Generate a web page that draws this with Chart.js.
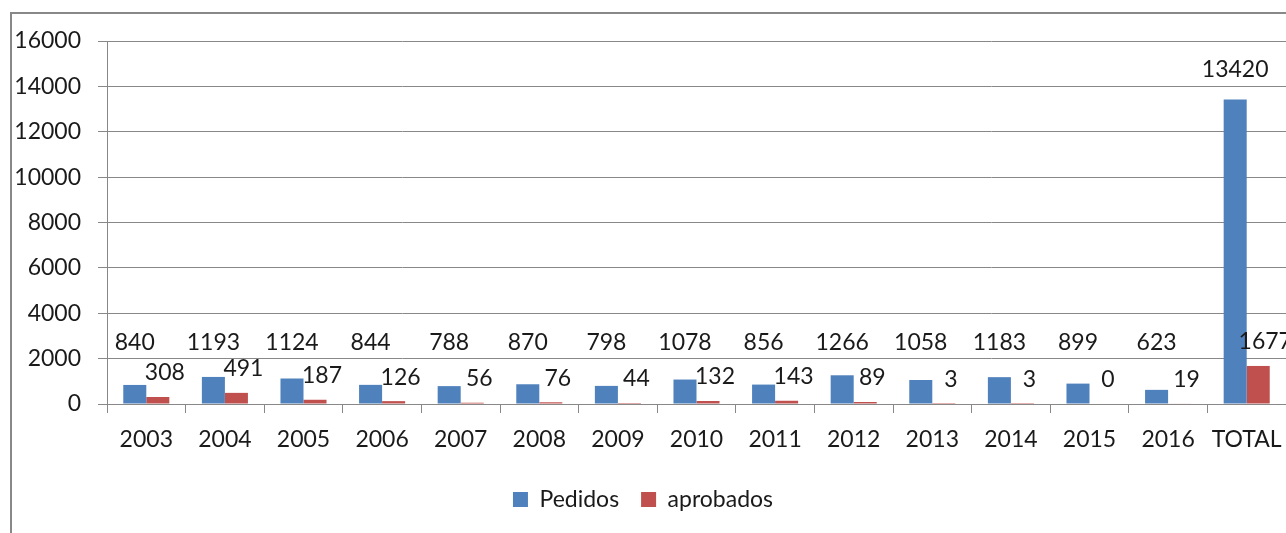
<!DOCTYPE html>
<html>
<head>
<meta charset="utf-8">
<script src="https://cdn.jsdelivr.net/npm/chart.js@4/dist/chart.umd.min.js"></script>
<style>
html,body{margin:0;padding:0;background:#fff;}
#wrap{position:relative;width:1286px;height:533px;}
</style>
</head>
<body>
<div id="wrap"><canvas id="c" width="1286" height="533"></canvas></div>
<script>
const categories = ['2003','2004','2005','2006','2007','2008','2009','2010','2011','2012','2013','2014','2015','2016','TOTAL'];
const pedidos = [840,1193,1124,844,788,870,798,1078,856,1266,1058,1183,899,623,13420];
const aprobados = [308,491,187,126,56,76,44,132,143,89,3,3,0,19,1677];
const yMin = 0, yMax = 16000, yStep = 2000;
const seriesNames = ['Pedidos','aprobados'];
const seriesColors = ['#4F81BD','#C0504D'];

const FONT = 'Lato, "Open Sans", sans-serif';
const FS = 23;

const framePlugin = {
  id:'frame',
  beforeDraw(chart){
    const ctx = chart.ctx;
    ctx.save();
    ctx.fillStyle = '#fff';
    ctx.fillRect(0,0,chart.width,chart.height);
    ctx.strokeStyle = '#888888';
    ctx.lineWidth = 2;
    ctx.beginPath();
    ctx.moveTo(11, chart.height+2);
    ctx.lineTo(11, 13);
    ctx.lineTo(chart.width+2, 13);
    ctx.stroke();
    ctx.restore();
  }
};

const labelPlugin = {
  id:'vals',
  afterDatasetsDraw(chart){
    const ctx = chart.ctx;
    const ys = chart.scales.y;
    ctx.save();
    ctx.font = FS + 'px ' + FONT;
    ctx.fillStyle = '#1a1a1a';
    ctx.textAlign = 'center';
    ctx.textBaseline = 'middle';
    chart.getDatasetMeta(0).data.forEach((bar,i)=>{
      const y = Math.min(ys.getPixelForValue(2700), bar.y - 30);
      ctx.fillText(String(pedidos[i]), bar.x, y);
    });
    chart.getDatasetMeta(1).data.forEach((bar,i)=>{
      const y = bar.y - 24;
      ctx.fillText(String(aprobados[i]), bar.x + 7, y);
    });
    ctx.restore();
  }
};

new Chart(document.getElementById('c'), {
  type:'bar',
  data:{
    labels:categories,
    datasets:[
      {label:seriesNames[0], data:pedidos, backgroundColor:seriesColors[0], categoryPercentage:0.586, barPercentage:1},
      {label:seriesNames[1], data:aprobados, backgroundColor:seriesColors[1], categoryPercentage:0.586, barPercentage:1}
    ]
  },
  options:{
    responsive:false,
    animation:false,
    layout:{padding:{top:41, right:0, bottom:12, left:0}},
    plugins:{
      legend:{
        position:'bottom',
        labels:{
          font:{family:FONT, size:FS},
          color:'#1a1a1a',
          boxWidth:15, boxHeight:15,
          padding:22
        }
      },
      tooltip:{enabled:false}
    },
    scales:{
      x:{
        grid:{display:true, drawOnChartArea:false, drawTicks:true, tickLength:9, color:'#888888', offset:true},
        border:{display:true, color:'#888888', width:1},
        ticks:{font:{family:FONT, size:FS}, color:'#1a1a1a', padding:13, maxRotation:0, autoSkip:false},
        afterFit(s){ s.height = 62; s.paddingLeft = 0; s.paddingRight = 0; }
      },
      y:{
        min:yMin, max:yMax,
        grid:{color:'#888888', tickLength:9, lineWidth:1},
        border:{display:true, color:'#888888', width:1},
        ticks:{stepSize:yStep, font:{family:FONT, size:FS}, color:'#1a1a1a', padding:17,
          callback:(v)=>String(v)},
        afterFit(s){ s.width = 107; }
      }
    }
  },
  plugins:[framePlugin, labelPlugin]
});
</script>
</body>
</html>
